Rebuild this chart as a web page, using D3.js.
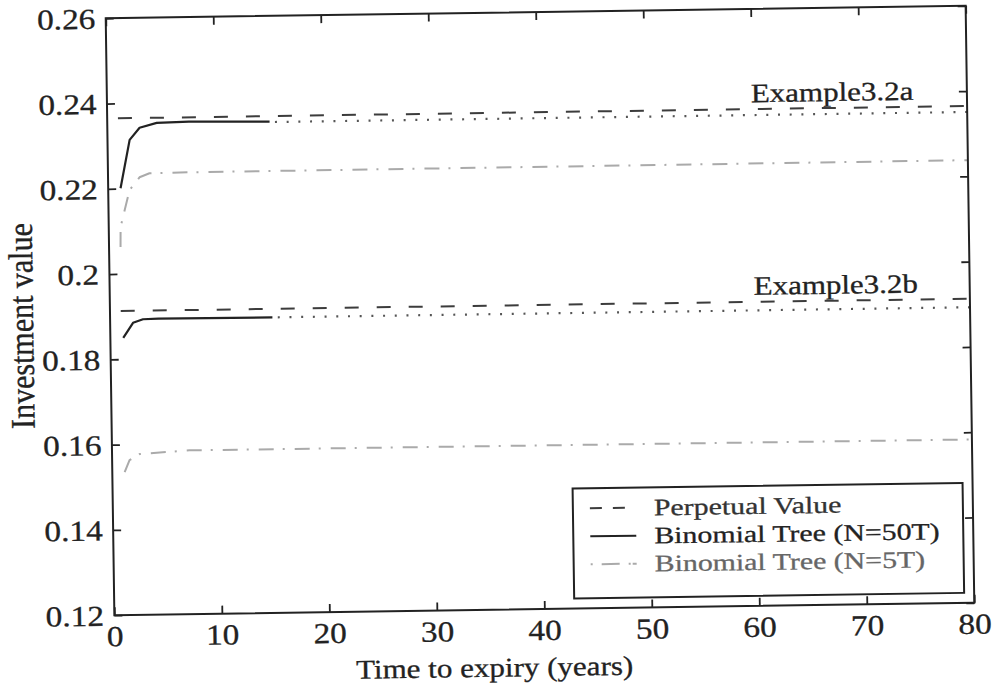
<!DOCTYPE html>
<html>
<head>
<meta charset="utf-8">
<title>Investment value vs time to expiry</title>
<script src="https://d3js.org/d3.v7.min.js"></script>
<style>
  body { margin: 0; background: #fff; }
  text { font-family: "Liberation Serif", "Times New Roman", serif; fill: #222; stroke: #222; stroke-width: 0.3; }
</style>
</head>
<body>
<script>
	var screenWidth  = 995;
	var screenHeight = 686;
	var margin = {left: 110, top: 12, right: 25, bottom: 77};
	var plotW = screenWidth - margin.left - margin.right;
	var plotH = screenHeight - margin.top - margin.bottom;
	var stretch = 1.15;   // the scanned text is wider than plain Times

	// axis ticks
	var xTicks = [0, 10, 20, 30, 40, 50, 60, 70, 80];
	var yTicks = [0.12, 0.14, 0.16, 0.18, 0.2, 0.22, 0.24, 0.26];

	// Example 3.2a
	var perpA      = [[1, 0.2365], [80, 0.2365]];
	var tree50A    = [[1.15, 0.2201], [2.06, 0.2314], [3.0, 0.2342], [4.6, 0.2353], [7.6, 0.2355], [15.1, 0.2352]];
	var tree50ADot = [[15.6, 0.2351], [80, 0.2351]];
	var tree5A     = [[1.07, 0.2063], [1.1, 0.2110], [1.98, 0.2196], [2.93, 0.2226], [3.86, 0.2235], [7.6, 0.2236], [80, 0.2238]];

	// Example 3.2b
	var perpB      = [[1, 0.1913], [80, 0.1913]];
	var tree50B    = [[1.2, 0.1850], [2.13, 0.1885], [3.06, 0.1893], [4.5, 0.1894], [15.1, 0.1893]];
	var tree50BDot = [[15.6, 0.1893], [80, 0.1893]];
	var tree5B     = [[1.15, 0.1535], [1.62, 0.1563], [2.56, 0.1577], [7.2, 0.1584], [80, 0.1583]];

	var exampleLabels = [["Example3.2a", 0.2365], ["Example3.2b", 0.1913]];
	var legendItems   = ["Perpetual Value", "Binomial Tree (N=50T)", "Binomial Tree (N=5T)"];

	var styles = {
		perp:   {stroke: "#3c3c3c", width: 2,   dash: "14,18"},
		tree50: {stroke: "#222",    width: 2.2, dash: null},
		dotted: {stroke: "#555",    width: 2.2, dash: "2,9.7"},
		tree5:  {stroke: "#aaa",    width: 2,   dash: "15,9,2,10"}
	};

	var xScale = d3.scaleLinear().domain([0, 80]).range([0, plotW]);
	var yScale = d3.scaleLinear().domain([0.12, 0.26]).range([plotH, 0]);

	var svg = d3.select("body").append("svg")
		.attr("width", screenWidth)
		.attr("height", screenHeight);
	svg.append("rect").attr("width", screenWidth).attr("height", screenHeight).attr("fill", "#fff");

	// the scan is tilted a little, so the whole figure is turned
	var page = svg.append("g").attr("transform", "rotate(-0.83, 540, 310)");
	var g = page.append("g").attr("transform", "translate(" + margin.left + "," + margin.top + ")");

	var line = d3.line().x(d => xScale(d[0])).y(d => yScale(d[1]));

	function drawSeries(data, st) {
		var p = g.append("path").datum(data)
			.attr("d", line)
			.attr("fill", "none")
			.attr("stroke", st.stroke)
			.attr("stroke-width", st.width)
			.attr("stroke-linejoin", "round");
		if (st.dash) p.attr("stroke-dasharray", st.dash);
	}

	drawSeries(perpA, styles.perp);
	drawSeries(tree5A, styles.tree5);
	drawSeries(tree50ADot, styles.dotted);
	drawSeries(tree50A, styles.tree50);
	drawSeries(perpB, styles.perp);
	drawSeries(tree5B, styles.tree5);
	drawSeries(tree50BDot, styles.dotted);
	drawSeries(tree50B, styles.tree50);

	// axes with inward ticks on all four sides
	var fmt = d => String(+d.toFixed(2));
	var xAxis = g.append("g").attr("transform", "translate(0," + plotH + ")")
		.call(d3.axisBottom(xScale).tickValues(xTicks).tickSize(-8).tickSizeOuter(0).tickFormat(fmt));
	var yAxis = g.append("g")
		.call(d3.axisLeft(yScale).tickValues(yTicks).tickSize(-8).tickSizeOuter(0).tickFormat(fmt));
	var topAxis = g.append("g")
		.call(d3.axisTop(xScale).tickValues(xTicks).tickSize(-8).tickSizeOuter(0).tickFormat(""));
	var rightAxis = g.append("g").attr("transform", "translate(" + plotW + ",0)")
		.call(d3.axisRight(yScale).tickValues(yTicks).tickSize(-8).tickSizeOuter(0).tickFormat(""));

	[xAxis, yAxis, topAxis, rightAxis].forEach(function(a) {
		a.select(".domain").remove();
		a.selectAll("line").attr("stroke", "#222").attr("stroke-width", 1.8);
	});

	xAxis.selectAll("text")
		.attr("y", 31).attr("dy", null)
		.attr("font-size", 29).attr("fill", "#222")
		.attr("transform", "scale(" + stretch + ",1)");
	yAxis.selectAll("text")
		.attr("x", -9).attr("dy", "0.34em")
		.attr("font-size", 29).attr("fill", "#222")
		.attr("transform", "scale(" + stretch + ",1)");

	// frame
	g.append("rect")
		.attr("width", plotW).attr("height", plotH)
		.attr("fill", "none").attr("stroke", "#222").attr("stroke-width", 2);

	// axis titles
	g.append("text")
		.attr("transform", "translate(" + (xScale(35.3)) + "," + (plotH + 67) + ") scale(" + stretch + ",1)")
		.attr("text-anchor", "middle").attr("font-size", 27)
		.text("Time to expiry (years)");

	g.append("text")
		.attr("transform", "translate(" + (-77) + "," + (plotH / 2 + 8) + ") scale(" + stretch + ",1) rotate(-90)")
		.attr("text-anchor", "middle").attr("font-size", 30)
		.text("Investment value");

	// example labels
	g.selectAll(".exlabel").data(exampleLabels).enter().append("text")
		.attr("class", "exlabel")
		.attr("transform", d => "translate(" + xScale(59.9) + "," + (yScale(d[1]) - 7) + ") scale(1.17,1)")
		.attr("font-size", 26.5)
		.text(d => d[0]);

	// legend
	var legX = 460, legY = 477, legW = 390, legH = 110;
	var leg = g.append("g").attr("transform", "translate(" + legX + "," + legY + ")");
	leg.append("rect").attr("width", legW).attr("height", legH)
		.attr("fill", "#fff").attr("stroke", "#222").attr("stroke-width", 2);

	var legStyles = [
		{stroke: "#3c3c3c", width: 2, dash: "12,11"},
		{stroke: "#222",    width: 2, dash: null},
		{stroke: "#aaa",    width: 2, dash: "2,9,18,9,2"}
	];
	var legColours = ["#333", "#222", "#666"];
	legendItems.forEach(function(name, i) {
		var yBase = 28 + i * 28;
		var ln = leg.append("line")
			.attr("x1", 17).attr("x2", 63)
			.attr("y1", yBase - 8).attr("y2", yBase - 8)
			.attr("stroke", legStyles[i].stroke)
			.attr("stroke-width", legStyles[i].width);
		if (legStyles[i].dash) ln.attr("stroke-dasharray", legStyles[i].dash);
		leg.append("text")
			.attr("transform", "translate(81," + yBase + ") scale(1.27,1)")
			.attr("font-size", 23.5)
			.style("fill", legColours[i])
			.style("stroke", legColours[i])
			.text(name);
	});
</script>
</body>
</html>
